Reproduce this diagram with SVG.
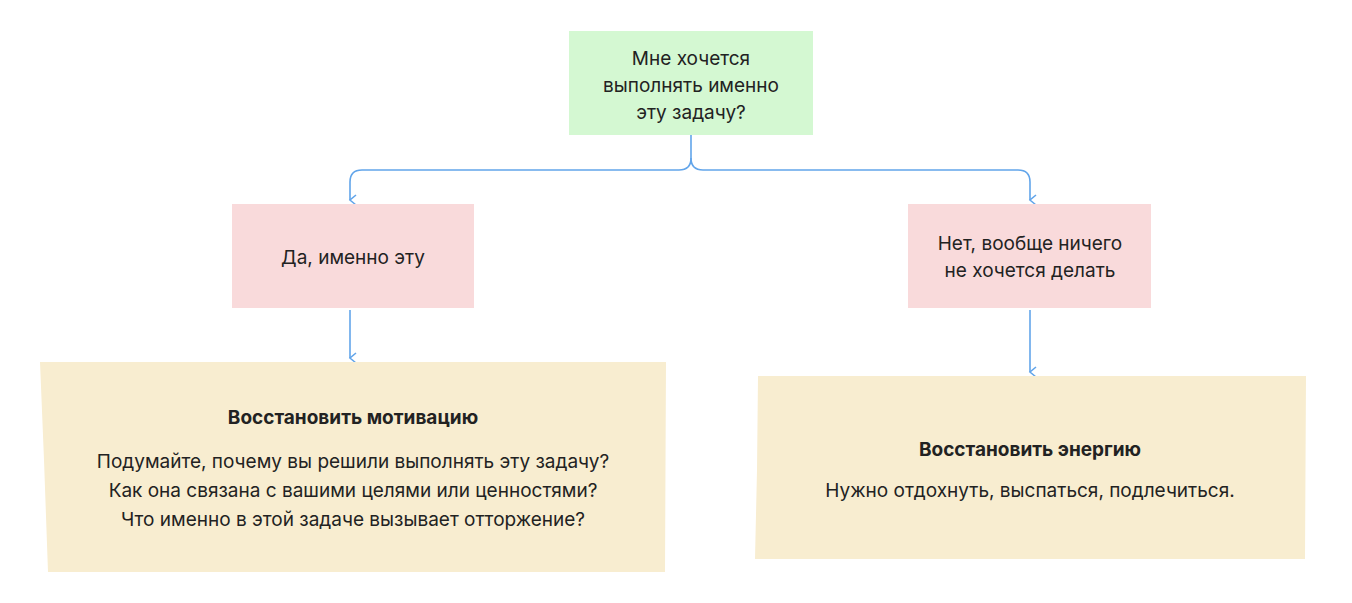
<svg xmlns="http://www.w3.org/2000/svg" width="1352" height="603" viewBox="0 0 1352 603">
<defs>
<marker id="ah" markerWidth="12" markerHeight="10" refX="6" refY="8" orient="auto-start-reverse" markerUnits="userSpaceOnUse" viewBox="0 0 12 10"><path d="M1,2 L6,8 L11,2" fill="none" stroke="#62a5ea" stroke-width="1.6"/></marker>
<style>
text{font-family:Inter,"Noto Sans",sans-serif;font-size:19px;fill:#222;text-anchor:middle}
.b{font-weight:bold}
.c{fill:none;stroke:#62a5ea;stroke-width:1.6}
</style>
</defs>
<rect width="1352" height="603" fill="#fff"/>
<g id="connectors">
<path class="c" d="M691,135 V158 Q691,170 679,170 H362 Q350,170 350,182 V200" marker-end="url(#ah)"/>
<path class="c" d="M691,158 Q691,170 703,170 H1018 Q1030,170 1030,182 V200" marker-end="url(#ah)"/>
<path class="c" d="M350,310 V358" marker-end="url(#ah)"/>
<path class="c" d="M1030,310 V372" marker-end="url(#ah)"/>
</g>
<g id="q"><rect x="569" y="31" width="244" height="104" fill="#d4f8d2"/>
<text x="691" y="65">Мне хочется</text><text x="691" y="92">выполнять именно</text><text x="691" y="119">эту задачу?</text></g>
<g id="yes"><rect x="232" y="204" width="242" height="104" fill="#f9dadb"/>
<text x="353" y="264">Да, именно эту</text></g>
<g id="no"><rect x="908" y="204" width="243" height="104" fill="#f9dadb"/>
<text x="1030" y="250">Нет, вообще ничего</text><text x="1030" y="277">не хочется делать</text></g>
<g id="motiv"><path d="M40,362 L666,362 L665,572 L48,572 L44,460 Z" fill="#f8edd0"/>
<text class="b" x="353" y="424">Восстановить мотивацию</text>
<text x="353" y="468">Подумайте, почему вы решили выполнять эту задачу?</text>
<text x="353" y="497">Как она связана с вашими целями или ценностями?</text>
<text x="353" y="526">Что именно в этой задаче вызывает отторжение?</text></g>
<g id="energy"><path d="M758,376 L1306,376 L1305,559 L755,559 L757,470 Z" fill="#f8edd0"/>
<text class="b" x="1030" y="456">Восстановить энергию</text>
<text x="1030" y="497">Нужно отдохнуть, выспаться, подлечиться.</text></g>
</svg>
